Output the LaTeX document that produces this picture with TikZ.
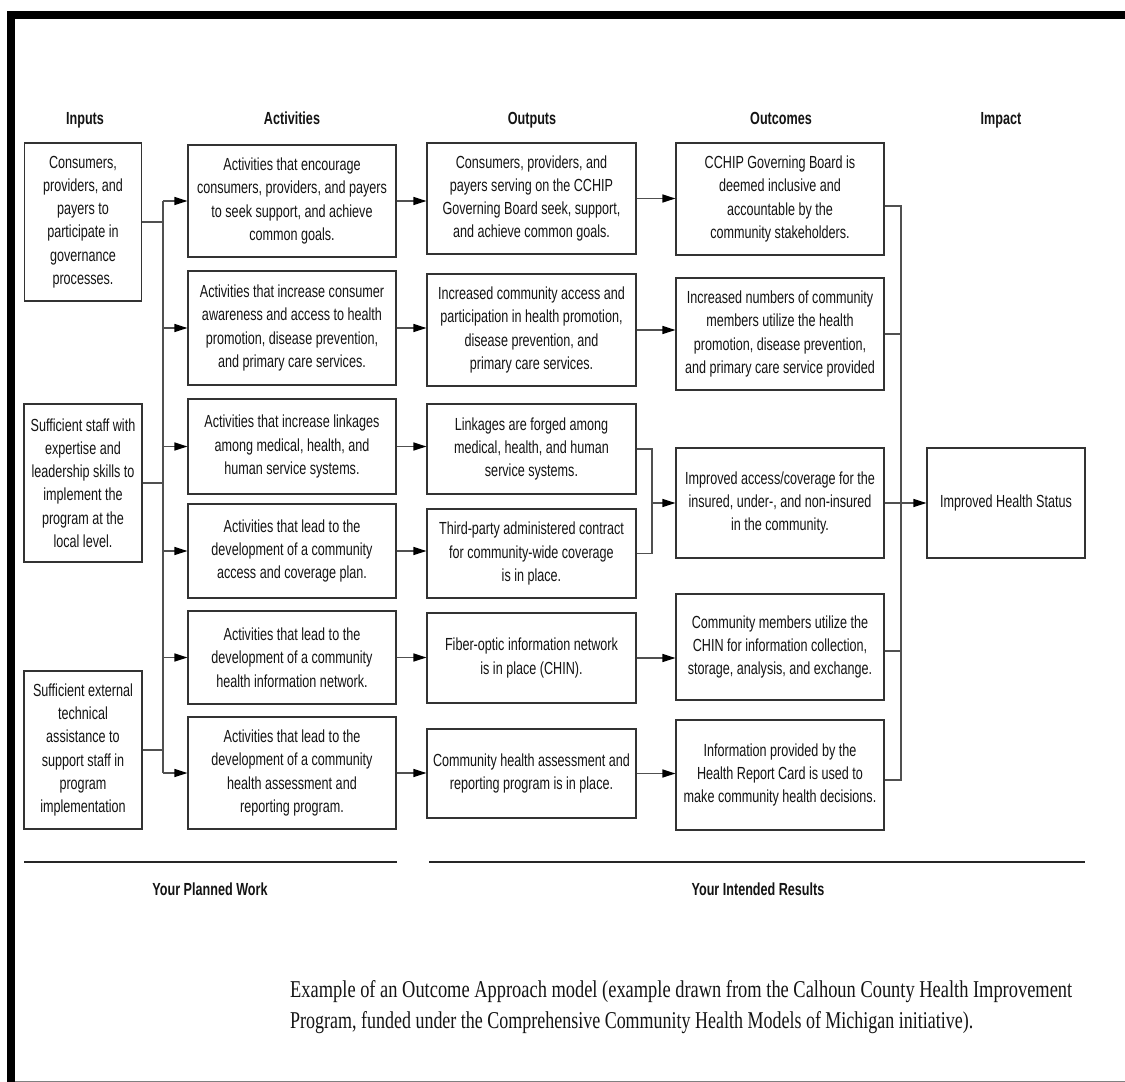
\documentclass[tikz,border=0pt]{standalone}
\usepackage{fontspec}
\usepackage{graphicx}
\setmainfont{Liberation Sans}[FakeStretch=0.72]
\newfontfamily\capfont{Liberation Serif}
\usetikzlibrary{arrows.meta,calc}
\definecolor{txt}{HTML}{141414}
\definecolor{boxc}{HTML}{333333}
\definecolor{linec}{HTML}{505050}
\newcommand{\boxfont}{\fontsize{17.5}{23.3}\selectfont}
\newcommand{\hdrfont}{\fontsize{17.5}{20}\selectfont\bfseries}
\tikzset{
  box/.style={draw=boxc, line width=1.1pt, align=center, inner sep=0pt, font=\boxfont, text=txt},
  hdr/.style={font=\hdrfont, text=txt, inner sep=0pt, anchor=base},
  conn/.style={draw=linec, line width=1.4pt},
  arr/.style={conn, -{Triangle[length=13pt,width=8pt,color=black]}},
}
\begin{document}
\begin{tikzpicture}[x=1pt,y=-1pt]
\useasboundingbox (0,0) rectangle (1125,1082);
\fill[white] (0,0) rectangle (1125,1082);
% frame
\fill[black] (7,11) rectangle (1125,19);
\fill[black] (7,11) rectangle (15,1082);
\draw[gray, line width=1pt] (15,1081) -- (1125,1081);

% headers
\node[hdr] (hIn) at (85,124) {Inputs};
\node[hdr] (hAc) at (292,124) {Activities};
\node[hdr] (hOu) at (532,124) {Outputs};
\node[hdr] (hOc) at (781,124) {Outcomes};
\node[hdr] (hIm) at (1001,124) {Impact};

% inputs
\node[box, minimum width=117pt, minimum height=158pt] (I1) at (83,222) {Consumers,\\providers, and\\payers to\\participate in\\governance\\processes.};
\node[box, minimum width=118pt, minimum height=158pt] (I2) at (83,483) {Sufficient staff with\\expertise and\\leadership skills to\\implement the\\program at the\\local level.};
\node[box, minimum width=118pt, minimum height=158pt] (I3) at (83,750) {Sufficient external\\technical\\assistance to\\support staff in\\program\\implementation};

% activities
\node[box, minimum width=208pt, minimum height=112pt] (A1) at (292,201) {Activities that encourage\\consumers, providers, and payers\\to seek support, and achieve\\common goals.};
\node[box, minimum width=208pt, minimum height=114pt] (A2) at (292,328) {Activities that increase consumer\\awareness and access to health\\promotion, disease prevention,\\and primary care services.};
\node[box, minimum width=208pt, minimum height=95pt] (A3) at (292,446.5) {Activities that increase linkages\\among medical, health, and\\human service systems.};
\node[box, minimum width=208pt, minimum height=94pt] (A4) at (292,551) {Activities that lead to the\\development of a community\\access and coverage plan.};
\node[box, minimum width=208pt, minimum height=93pt] (A5) at (292,657.5) {Activities that lead to the\\development of a community\\health information network.};
\node[box, minimum width=208pt, minimum height=112pt] (A6) at (292,773) {Activities that lead to the\\development of a community\\health assessment and\\reporting program.};

% outputs
\node[box, minimum width=209pt, minimum height=111pt] (O1) at (531.5,198.5) {Consumers, providers, and\\payers serving on the CCHIP\\Governing Board seek, support,\\and achieve common goals.};
\node[box, minimum width=209pt, minimum height=112pt] (O2) at (531.5,330) {Increased community access and\\participation in health promotion,\\disease prevention, and\\primary care services.};
\node[box, minimum width=209pt, minimum height=90pt] (O3) at (531.5,449) {Linkages are forged among\\medical, health, and human\\service systems.};
\node[box, minimum width=209pt, minimum height=89pt] (O4) at (531.5,553.5) {Third-party administered contract\\for community-wide coverage\\is in place.};
\node[box, minimum width=209pt, minimum height=90pt] (O5) at (531.5,658) {Fiber-optic information network\\is in place (CHIN).};
\node[box, minimum width=209pt, minimum height=89pt] (O6) at (531.5,773.5) {Community health assessment and\\reporting program is in place.};

% outcomes
\node[box, minimum width=208pt, minimum height=112pt] (C1) at (780,199) {CCHIP Governing Board is\\deemed inclusive and\\accountable by the\\community stakeholders.};
\node[box, minimum width=208pt, minimum height=112pt] (C2) at (780,334) {Increased numbers of community\\members utilize the health\\promotion, disease prevention,\\and primary care service provided};
\node[box, minimum width=208pt, minimum height=110pt] (C3) at (780,503) {Improved access/coverage for the\\insured, under-, and non-insured\\in the community.};
\node[box, minimum width=208pt, minimum height=106pt] (C4) at (780,647) {Community members utilize the\\CHIN for information collection,\\storage, analysis, and exchange.};
\node[box, minimum width=208pt, minimum height=110pt] (C5) at (780,775) {Information provided by the\\Health Report Card is used to\\make community health decisions.};

% impact
\node[box, minimum width=158pt, minimum height=110pt] (Imp) at (1006,503) {Improved Health Status};

% inputs -> activities bus
\coordinate (b1) at (163,0);
\draw[conn] (I1.east) -- (I1.east -| b1);
\draw[conn] (I2.east) -- (I2.east -| b1);
\draw[conn] (I3.east) -- (I3.east -| b1);
\draw[conn] (b1 |- A1.west) -- (b1 |- A6.west);
\foreach \a in {A1,A2,A3,A4,A5,A6} {
  \draw[arr] (b1 |- \a.west) -- (\a.west);
}

% activities -> outputs
\draw[arr] (A1.east) -- (A1.east -| O1.west);
\draw[arr] (A2.east) -- (A2.east -| O2.west);
\draw[arr] (A3.east) -- (A3.east -| O3.west);
\draw[arr] (A4.east) -- (A4.east -| O4.west);
\draw[arr] (A5.east) -- (A5.east -| O5.west);
\draw[arr] (A6.east) -- (A6.east -| O6.west);

% outputs -> outcomes
\draw[arr] (O1.east) -- (O1.east -| C1.west);
\draw[arr] (O2.east) -- (O2.east -| C2.west);
\coordinate (m) at (652,0);
\draw[conn] (O3.east) -- (O3.east -| m) -- (O4.east -| m) -- (O4.east);
\draw[arr] (m |- C3.west) -- (C3.west);
\draw[arr] (O5.east) -- (O5.east -| C4.west);
\draw[arr] (O6.east) -- (O6.east -| C5.west);

% outcomes -> impact
\coordinate (cb) at (901,0);
\draw[conn] ([yshift=-7pt]C1.east) -- ([yshift=-7pt]C1.east -| cb) -- ([yshift=-5pt]C5.east -| cb) -- ([yshift=-5pt]C5.east);
\draw[conn] (C2.east) -- (C2.east -| cb);
\draw[conn] ([yshift=-4pt]C4.east) -- ([yshift=-4pt]C4.east -| cb);
\draw[arr] (C3.east) -- (Imp.west);

% footer
\draw[line width=1.8pt, draw=black!85] (24,862) -- (397,862);
\draw[line width=1.8pt, draw=black!85] (429,862) -- (1085,862);
\node[hdr] (fPW) at (210,895) {Your Planned Work};
\node[hdr] (fIR) at (758,895) {Your Intended Results};

% caption
\node[anchor=base west, inner sep=0pt, text=txt] (cap1) at (290,997) {\resizebox{782pt}{17pt}{\capfont\fontsize{20}{24}\selectfont Example of an Outcome Approach model (example drawn from the Calhoun County Health Improvement}};
\node[anchor=base west, inner sep=0pt, text=txt] (cap2) at (290,1028) {\resizebox{683pt}{17pt}{\capfont\fontsize{20}{24}\selectfont Program, funded under the Comprehensive Community Health Models of Michigan initiative).}};
\end{tikzpicture}
\end{document}
